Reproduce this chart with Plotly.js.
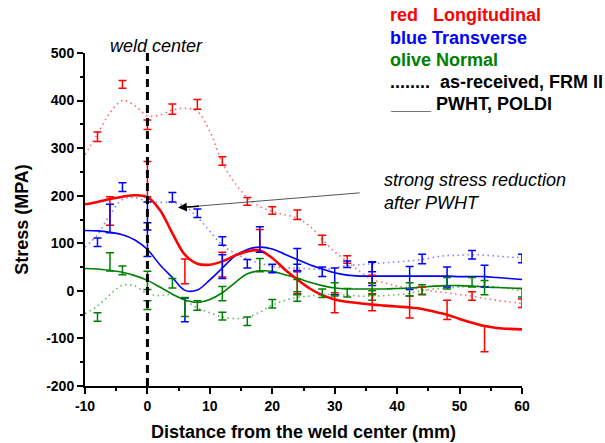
<!DOCTYPE html>
<html>
<head>
<meta charset="utf-8">
<script src="https://cdn.plot.ly/plotly-3.0.1.min.js"></script>
<style>html,body{margin:0;padding:0;background:#fff;}#chart{width:605px;height:443px;}</style>
</head>
<body>
<div id="chart"></div>
<script>
// ---- data ----
// as-received (FRM II) measurement points
var xAsReceived = [-8, -4, 0, 4, 8, 12, 16, 20, 24, 28, 32, 36, 44, 52, 60];
var redAsReceived = [324, 434, 349, 382, 392, 273, 188, 169, 160, 107, 66, 25, 0, -11, -26];
var redAsReceivedErr = [10, 8, 10, 11, 10, 9, 8, 8, 10, 10, 8, 8, 8, 9, 9];
var blueAsReceived = [102, 218, 165, 197, 163, 105, 57, 47, 48, 40, 56, 50, 67, 76, 68];
var blueAsReceivedErr = [9, 9, 22, 10, 9, 9, 9, 9, 8, 10, 7, 10, 10, 9, 9];
var greenAsReceived = [-55, 43, -30, 16, -31, -53, -64, -27, -12, -5, -4, -10, 3, 18, -4];
var greenAsReceivedErr = [9, 9, 9, 10, 10, 8, 9, 9, 10, 9, 9, 10, 10, 10, 9];

// PWHT (POLDI) measurement points
var xPWHT = [-6, 0, 6, 12, 18, 24, 30, 36, 42, 48, 54];
var redPWHT = [168, 235, 41, 55, 105, 18, -25, -24, -34, -40, -101];
var redPWHTErr = [30, 37, 26, 26, 24, 24, 21, 18, 23, 20, 27];
var bluePWHT = [152, 100, -40, 51, 108, 66, 20, 36, 27, 29, 31];
var bluePWHTErr = [30, 28, 25, 25, 27, 23, 28, 25, 24, 21, 23];
var greenPWHT = [61, 22, -34, -6, 54, 8, 3, 4, 3, 16, 7];
var greenPWHTErr = [19, 19, 20, 15, 14, 16, 14, 12, 14, 12, 15];

// smoothed fit curves as drawn in the reference
var xCurve = [-10, -8, -6, -4, -2, 0, 2, 4, 6, 8, 10, 12, 14, 16, 18, 20, 22, 24, 26, 28, 30, 32, 34, 36, 38, 40, 42, 44, 46, 48, 50, 52, 54, 56, 58, 60];
var redPWHTCurve = [182, 187, 193, 198, 201, 197, 170, 121, 76, 57, 55, 62, 74, 83, 85, 69, 45, 24, 5, -9, -18, -23, -26, -29, -31, -33, -35, -38, -44, -50, -59, -67, -74, -78, -80, -81];
var bluePWHTCurve = [127, 126, 123, 118, 107, 87, 55, 28, 1, 2, 23, 48, 73, 87, 92, 88, 77, 66, 55, 46, 38, 33, 31, 31, 31, 31, 31, 31, 31, 31, 30, 30, 30, 28, 26, 24];
var greenPWHTCurve = [47, 46, 43, 39, 32, 22, 8, -7, -19, -24, -18, -4, 17, 36, 42, 41, 34, 27, 18, 11, 6, 4, 4, 4, 4, 5, 6, 8, 10, 11, 11, 10, 8, 7, 6, 5];
var redAsReceivedCurve = [286, 330, 374, 400, 389, 368, 370, 380, 384, 377, 335, 269, 227, 196, 177, 167, 160, 153, 136, 108, 82, 62, 41, 24, 17, 10, 7, 3, -1, -4, -8, -11, -16, -20, -23, -27];
var blueAsReceivedCurve = [92, 118, 160, 192, 196, 188, 186, 186, 178, 155, 125, 96, 79, 67, 58, 52, 48, 48, 46, 45, 48, 53, 55, 57, 59, 61, 63, 66, 71, 74, 75, 76, 75, 73, 71, 70];
var greenAsReceivedCurve = [-48, -32, -8, 12, 10, -6, -10, -8, -20, -36, -46, -55, -58, -56, -45, -30, -20, -14, -11, -8, -8, -9, -11, -11, -10, -8, -5, 1, 4, 6, 8, 10, 10, 8, 5, -1];

var xTicks = [-10, 0, 10, 20, 30, 40, 50, 60];
var yTicks = [-200, -100, 0, 100, 200, 300, 400, 500];

// ---- styling ----
var RED = '#ff0000', BLUE = '#0000ff', GREEN = '#008000';
var FONT = 'Liberation Sans, Arial, Helvetica, sans-serif';
var DOT = '1.5px,3.5px';

function curve(y, color, width, dash, opacity) {
  return {x: xCurve, y: y, type: 'scatter', mode: 'lines', hoverinfo: 'skip',
    line: {color: color, width: width, dash: dash, shape: 'spline', smoothing: 1}, opacity: opacity};
}
function points(x, y, err, color) {
  return {x: x, y: y, type: 'scatter', mode: 'markers', hoverinfo: 'skip',
    marker: {size: 1, color: color, opacity: 0},
    error_y: {type: 'data', array: err, visible: true, color: color, thickness: 1.5, width: 4}};
}

var traces = [
  curve(redAsReceivedCurve, RED, 1.6, DOT, 0.6),
  curve(blueAsReceivedCurve, BLUE, 1.6, DOT, 0.5),
  curve(greenAsReceivedCurve, GREEN, 1.6, DOT, 0.6),
  curve(greenPWHTCurve, GREEN, 1.6, 'solid', 1),
  curve(bluePWHTCurve, BLUE, 1.6, 'solid', 1),
  curve(redPWHTCurve, RED, 2.6, 'solid', 1),
  points(xAsReceived, redAsReceived, redAsReceivedErr, RED),
  points(xAsReceived, blueAsReceived, blueAsReceivedErr, BLUE),
  points(xAsReceived, greenAsReceived, greenAsReceivedErr, GREEN),
  points(xPWHT, redPWHT, redPWHTErr, RED),
  points(xPWHT, bluePWHT, bluePWHTErr, BLUE),
  points(xPWHT, greenPWHT, greenPWHTErr, GREEN)
];

function legendText(text, y, color) {
  return {xref: 'paper', yref: 'paper', x: 0.693, y: y, xanchor: 'left', yanchor: 'middle', showarrow: false,
    text: '<b>' + text + '</b>', font: {family: FONT, size: 18, color: color}};
}

var annotations = [
  {xref: 'paper', yref: 'paper', x: 0.164, y: 1.021, xanchor: 'center', yanchor: 'middle', showarrow: false,
   text: '<i>weld center</i>', font: {family: FONT, size: 18, color: '#000'}},
  {xref: 'x', yref: 'y', x: 37.6, y: 208, xanchor: 'left', yanchor: 'middle', align: 'left', showarrow: false,
   text: '<i>strong stress reduction<br>after PWHT</i>',
   font: {family: FONT, size: 18, color: '#000'}},
  {xref: 'x', yref: 'y', axref: 'x', ayref: 'y', x: 4.9, y: 175, ax: 8.5, ay: 178, text: '',
   showarrow: true, arrowhead: 2, arrowsize: 1.1, arrowwidth: 1.6, arrowcolor: '#000', standoff: 0, startstandoff: 0},
  legendText('red&nbsp;&nbsp;&nbsp;Longitudinal', 1.114, RED),
  legendText('blue Transverse', 1.046, BLUE),
  legendText('olive Normal', 0.979, GREEN),
  legendText('........&nbsp;&nbsp;as-received, FRM II', 0.913, '#000'),
  legendText('____ PWHT, POLDI', 0.847, '#000')
];

var shapes = [
  {type: 'line', xref: 'x', yref: 'y', x0: 0, x1: 0, y0: -200, y1: 500, layer: 'above',
   line: {color: '#000', width: 3, dash: '8px,5px'}},
  {type: 'line', xref: 'x', yref: 'y', x0: 34, y0: 206, x1: 6.5, y1: 176.5, layer: 'above',
   line: {color: '#555', width: 1}}
];

var axisCommon = {
  showgrid: false, zeroline: false, showline: true, linecolor: '#000', linewidth: 2,
  ticks: 'outside', ticklen: 6, tickwidth: 2, tickcolor: '#000',
  tickfont: {family: FONT, size: 14, color: '#000', weight: 'bold'},
  fixedrange: true
};

var layout = {
  width: 605, height: 443,
  margin: {l: 85, r: 83, t: 53, b: 57},
  paper_bgcolor: '#fff', plot_bgcolor: '#fff',
  showlegend: false,
  font: {family: FONT, color: '#000'},
  xaxis: Object.assign({}, axisCommon, {
    range: [-10, 60], tickmode: 'array', tickvals: xTicks, ticktext: xTicks.map(String),
    minor: {dtick: 5, tick0: 0, ticks: 'outside', ticklen: 3, tickwidth: 2, tickcolor: '#000'},
    title: {text: '<b>Distance from the weld center (mm)</b>', font: {family: FONT, size: 18, color: '#000'}, standoff: 13}
  }),
  yaxis: Object.assign({}, axisCommon, {
    range: [-200, 500], tickmode: 'array', tickvals: yTicks, ticktext: yTicks.map(String),
    minor: {dtick: 50, tick0: 0, ticks: 'outside', ticklen: 3, tickwidth: 2, tickcolor: '#000'},
    title: {text: '<b>Stress (MPA)</b>', font: {family: FONT, size: 18, color: '#000'}, standoff: 13}
  }),
  annotations: annotations,
  shapes: shapes
};

Plotly.newPlot('chart', traces, layout, {displayModeBar: false, staticPlot: true});
</script>
</body>
</html>
